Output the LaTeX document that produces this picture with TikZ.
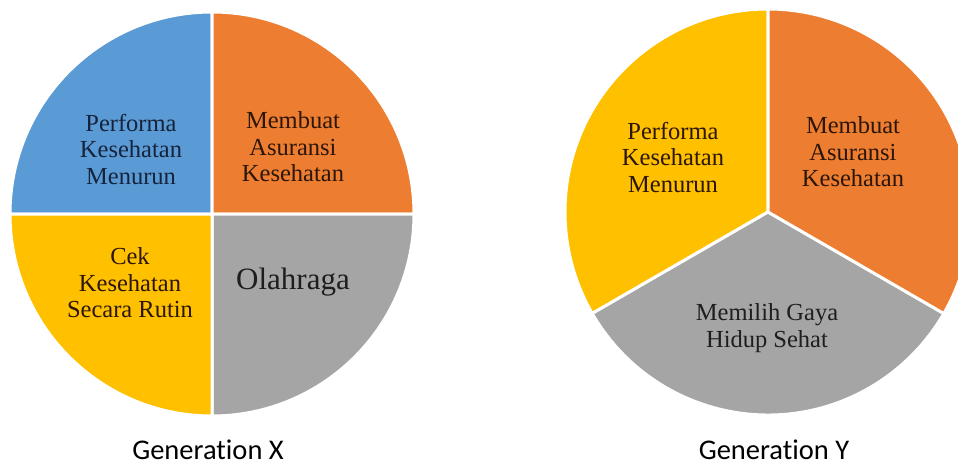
\documentclass[tikz,border=0pt]{standalone}
\usepackage{fontspec}
\setmainfont{Liberation Serif}
\newfontfamily\genfont[Ligatures=NoCommon]{Carlito}
\definecolor{pblue}{HTML}{5B9BD5}
\definecolor{porange}{HTML}{ED7D31}
\definecolor{pgray}{HTML}{A5A5A5}
\definecolor{pyellow}{HTML}{FFC000}
\definecolor{tnavy}{HTML}{16233D}
\definecolor{tbrown}{HTML}{2B1608}
\definecolor{tdark}{HTML}{1E1E1E}
\tikzset{
  slice/.style={draw=white, line width=3pt, line join=round},
  lbl/.style={align=center, inner sep=0pt, font=\fontsize{24.5}{26.5}\selectfont},
  genlbl/.style={anchor=base, inner sep=0pt, font=\genfont\fontsize{28.5}{30}\selectfont, text=black}
}
\begin{document}
\begin{tikzpicture}[x=1pt,y=1pt]
\useasboundingbox (0,0) rectangle (958,467);
\fill[white] (0,0) rectangle (958,467);
\begin{scope}
\clip (0,0) rectangle (958,467);
% Generation X pie
\coordinate (cx) at (212,253);
\path[slice, fill=pblue]   (cx) -- ++(90:202)  arc[start angle=90,  end angle=180, radius=202] -- cycle;
\path[slice, fill=porange] (cx) -- ++(0:202)   arc[start angle=0,   end angle=90,  radius=202] -- cycle;
\path[slice, fill=pgray]   (cx) -- ++(-90:202) arc[start angle=-90, end angle=0,   radius=202] -- cycle;
\path[slice, fill=pyellow] (cx) -- ++(180:202) arc[start angle=180, end angle=270, radius=202] -- cycle;
% Generation Y pie
\coordinate (cy) at (768,255);
\path[slice, fill=pyellow] (cy) -- ++(90:203)  arc[start angle=90,  end angle=210, radius=203] -- cycle;
\path[slice, fill=pgray]   (cy) -- ++(210:203) arc[start angle=210, end angle=330, radius=203] -- cycle;
\path[slice, fill=porange] (cy) -- ++(-30:203) arc[start angle=-30, end angle=90,  radius=203] -- cycle;
\end{scope}
% labels Generation X
\node[lbl, text=tnavy]  (xa) at (131,318) {Performa\\Kesehatan\\Menurun};
\node[lbl, text=tbrown] (xb) at (293,320) {Membuat\\Asuransi\\Kesehatan};
\node[lbl, text=tbrown] (xc) at (130,184) {Cek\\Kesehatan\\Secara Rutin};
\node[inner sep=0pt, text=tdark, font=\fontsize{31}{33}\selectfont] (xd) at (293,185) {Olahraga};
% labels Generation Y
\node[lbl, text=tbrown] (ya) at (673,310) {Performa\\Kesehatan\\Menurun};
\node[lbl, text=tbrown] (yb) at (853,315) {Membuat\\Asuransi\\Kesehatan};
\node[lbl, text=tdark]  (yc) at (767,139) {Memilih Gaya\\Hidup Sehat};
% captions
\node[genlbl] (gx) at (208,8) {Generation X};
\node[genlbl] (gy) at (774,8) {Generation Y};
\end{tikzpicture}
\end{document}
